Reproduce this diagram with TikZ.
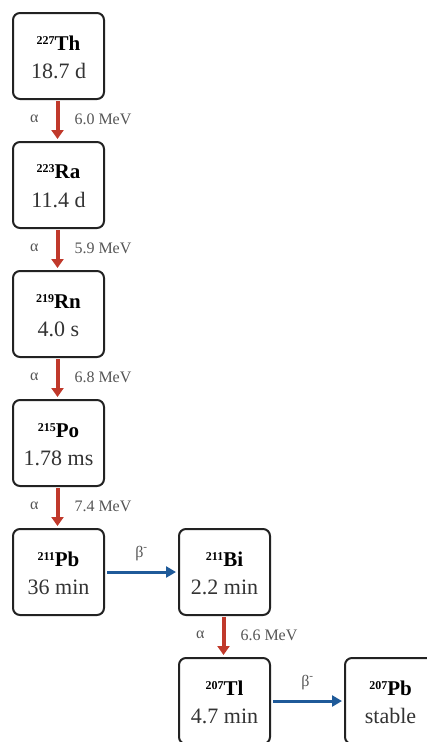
\documentclass[tikz,border=0pt]{standalone}
\usepackage{fontspec}
\setmainfont{Liberation Serif}
\usetikzlibrary{arrows.meta}
\definecolor{boxc}{HTML}{222222}
\definecolor{alphac}{HTML}{C0392B}
\definecolor{betac}{HTML}{1F5A99}
\definecolor{labc}{HTML}{555555}
\definecolor{txtc}{HTML}{333333}
\tikzset{
  nuc/.style={draw=boxc, line width=2pt, rounded corners=7pt, minimum width=91pt, minimum height=86pt, fill=white, inner sep=0pt, text=txtc},
  adec/.style={draw=alphac, line width=4pt, -{Triangle[length=9pt,width=12pt]}},
  bdec/.style={draw=betac, line width=3pt, -{Triangle[length=10pt,width=11pt]}},
  lab/.style={text=labc, font=\fontsize{16}{18}\selectfont, inner sep=0pt},
}
\newcommand{\nucl}[3]{\raisebox{-3pt}[\height][\depth]{\begin{tabular}{@{}c@{}}\fontsize{21}{24}\selectfont\textbf{\color{black}{\fontsize{12}{14}\selectfont\raisebox{6pt}{#1}}#2}\\[9.5pt]\fontsize{22}{24}\selectfont #3\end{tabular}}}
\begin{document}
\begin{tikzpicture}[x=1pt,y=1pt]
\useasboundingbox (0,0) rectangle (427,-742);
\clip (0,0) rectangle (427,-742);
\node[nuc] (th) at (58.5,-56) {\nucl{227}{Th}{18.7 d}};
\node[nuc] (ra) at (58.5,-185) {\nucl{223}{Ra}{11.4 d}};
\node[nuc] (rn) at (58.5,-314) {\nucl{219}{Rn}{4.0 s}};
\node[nuc] (po) at (58.5,-443) {\nucl{215}{Po}{1.78 ms}};
\node[nuc] (pb211) at (58.5,-572) {\nucl{211}{Pb}{36 min}};
\node[nuc] (bi) at (224.5,-572) {\nucl{211}{Bi}{2.2 min}};
\node[nuc] (tl) at (224.5,-701) {\nucl{207}{Tl}{4.7 min}};
\node[nuc] (pb207) at (390.5,-701) {\nucl{207}{Pb}{stable}};
\foreach \a/\b/\e in {th/ra/6.0, ra/rn/5.9, rn/po/6.8, po/pb211/7.4, bi/tl/6.6}{
  \draw[adec] ([xshift=-1pt,yshift=-1pt]\a.south) -- ([xshift=-1pt,yshift=2pt]\b.north)
    node[midway, lab, left=17pt, yshift=1pt] {α}
    node[midway, lab, right=15pt, yshift=1pt] {\e\ MeV};
}
\foreach \a/\b in {pb211/bi, tl/pb207}{
  \draw[bdec] ([xshift=2pt]\a.east) -- ([xshift=-2pt]\b.west)
    node[midway, lab, above=10pt] {β\textsuperscript{-}};
}
\end{tikzpicture}
\end{document}
